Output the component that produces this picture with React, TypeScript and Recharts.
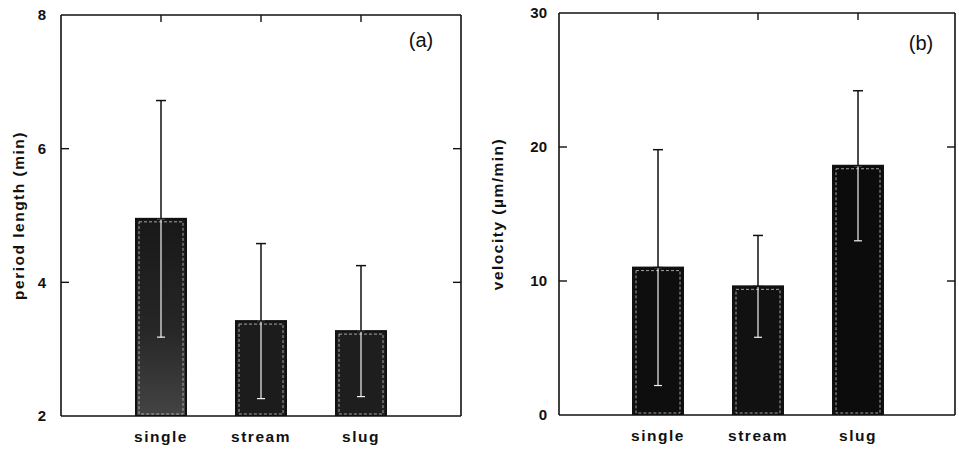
import { BarChart, Bar, XAxis, YAxis, ErrorBar, Cell } from 'recharts'

const CATEGORIES = ['single', 'stream', 'slug']

// (a) period length (min)
const PERIOD_MEAN = [4.95, 3.42, 3.27]
const PERIOD_SD = [1.77, 1.16, 0.98]
const PERIOD_TICKS = [2, 4, 6, 8]

// (b) velocity (µm/min)
const VELOCITY_MEAN = [11.0, 9.6, 18.6]
const VELOCITY_SD = [8.8, 3.8, 5.6]
const VELOCITY_TICKS = [0, 10, 20, 30]

const INK = '#111'
const FONT = '"Liberation Sans", Arial, Helvetica, sans-serif'

const FILLS_A = ['url(#speckA)', '#1c1c1c', '#1e1e1e']
const FILLS_B = ['#0e0e0e', '#111', '#0c0c0c']

const periodData = CATEGORIES.map((name, i) => ({
  name,
  value: PERIOD_MEAN[i],
  up: [0, PERIOD_SD[i]],
  down: [PERIOD_SD[i], 0],
}))

const velocityData = CATEGORIES.map((name, i) => ({
  name,
  value: VELOCITY_MEAN[i],
  up: [0, VELOCITY_SD[i]],
  down: [VELOCITY_SD[i], 0],
}))

const tickStyle = { fontSize: 15, fontWeight: 700, fill: INK, fontFamily: FONT }
const catTickStyle = { fontSize: 15.5, fontWeight: 700, fill: INK, fontFamily: FONT, letterSpacing: 1.5 }
const frameLine = { stroke: INK, strokeWidth: 1.6 }
const innerTick = { stroke: INK, strokeWidth: 1.4 }

// tick marks only, no label
const NoLabel = () => <g />

function ScannedBar(props: any) {
  const { x, y, width, height, fill, background } = props
  if (!height || height <= 0) return null
  const cx = x + width / 2
  return (
    <g>
      <defs>
        <linearGradient id="speckA" x1="0" y1="0" x2="0" y2="1">
          <stop offset="0%" stopColor="#181818" />
          <stop offset="55%" stopColor="#262626" />
          <stop offset="100%" stopColor="#444" />
        </linearGradient>
      </defs>
      {/* inward tick on the top frame above this category */}
      {background && (
        <line x1={cx} x2={cx} y1={background.y} y2={background.y + 7} stroke={INK} strokeWidth={1.4} />
      )}
      <rect x={x} y={y} width={width} height={height} fill={fill} stroke={INK} strokeWidth={2} />
      <rect
        x={x + 3}
        y={y + 3}
        width={Math.max(width - 6, 0)}
        height={Math.max(height - 5, 0)}
        fill="none"
        stroke="#c8c8c8"
        strokeWidth={0.8}
        strokeDasharray="3 2"
      />
    </g>
  )
}

type PanelProps = {
  data: typeof periodData
  fills: string[]
  domain: [number, number]
  ticks: number[]
  yLabel: string
  width: number
  margin: { top: number; right: number; bottom: number; left: number }
  yAxisWidth: number
  xAxisHeight: number
  padding: { left: number; right: number }
  tickMargin: number
  labelDx: number
}

function Panel(p: PanelProps) {
  return (
    <BarChart width={p.width} height={449} data={p.data} margin={p.margin} barSize={50}>
      <XAxis
        dataKey="name"
        height={p.xAxisHeight}
        padding={p.padding}
        tickLine={false}
        tickMargin={9}
        axisLine={frameLine}
        tick={catTickStyle}
        interval={0}
      />
      <XAxis
        xAxisId="top"
        dataKey="name"
        orientation="top"
        height={1}
        padding={p.padding}
        tick={false}
        tickLine={false}
        axisLine={frameLine}
      />
      <YAxis
        type="number"
        domain={p.domain}
        ticks={p.ticks}
        width={p.yAxisWidth}
        tickLine={false}
        tickSize={0}
        tickMargin={p.tickMargin}
        axisLine={frameLine}
        tick={tickStyle}
        allowDataOverflow
        label={{
          value: p.yLabel,
          angle: -90,
          position: 'center',
          dx: p.labelDx,
          style: { fontSize: 15.5, fontWeight: 700, fill: INK, fontFamily: FONT, letterSpacing: 1.5 },
        }}
      />
      <YAxis
        yAxisId="leftIn"
        orientation="left"
        mirror
        type="number"
        domain={p.domain}
        ticks={p.ticks.slice(1, -1)}
        width={1}
        tick={NoLabel}
        tickSize={8}
        tickLine={innerTick}
        axisLine={false}
        allowDataOverflow
        interval={0}
      />
      <YAxis
        yAxisId="right"
        orientation="right"
        mirror
        type="number"
        domain={p.domain}
        ticks={p.ticks.slice(1, -1)}
        width={1}
        tick={NoLabel}
        tickSize={8}
        tickLine={innerTick}
        axisLine={frameLine}
        allowDataOverflow
        interval={0}
      />
      <Bar dataKey="value" shape={ScannedBar} isAnimationActive={false}>
        {p.data.map((d, i) => (
          <Cell key={d.name} fill={p.fills[i]} />
        ))}
        <ErrorBar dataKey="down" direction="y" width={4} stroke="#f2f2f2" strokeWidth={1.2} />
        <ErrorBar dataKey="up" direction="y" width={5} stroke={INK} strokeWidth={1.5} />
      </Bar>
    </BarChart>
  )
}

export default function App() {
  return (
    <div
      style={{
        position: 'absolute',
        left: 0,
        top: 0,
        width: 959,
        height: 449,
        background: '#fff',
        fontFamily: FONT,
        overflow: 'hidden',
      }}
    >
      <div style={{ position: 'absolute', left: 0, top: 0 }}>
        <Panel
          data={periodData}
          fills={FILLS_A}
          domain={[2, 8]}
          ticks={PERIOD_TICKS}
          yLabel="period length (min)"
          width={480}
          margin={{ top: 14, right: 19, bottom: 0, left: 0 }}
          yAxisWidth={61}
          xAxisHeight={33}
          padding={{ left: 50, right: 50 }}
          tickMargin={15}
          labelDx={-12.5}
        />
      </div>
      <div style={{ position: 'absolute', left: 480, top: 0 }}>
        <Panel
          data={velocityData}
          fills={FILLS_B}
          domain={[0, 30]}
          ticks={VELOCITY_TICKS}
          yLabel="velocity (µm/min)"
          width={479}
          margin={{ top: 12, right: 4, bottom: 0, left: 0 }}
          yAxisWidth={79}
          xAxisHeight={34}
          padding={{ left: 49, right: 47 }}
          tickMargin={12}
          labelDx={-22.5}
        />
      </div>
      <span
        style={{ position: 'absolute', left: 421, top: 40, transform: 'translate(-50%, -50%)', fontSize: 20, color: INK }}
      >
        (a)
      </span>
      <span
        style={{ position: 'absolute', left: 921, top: 43, transform: 'translate(-50%, -50%)', fontSize: 20, color: INK }}
      >
        (b)
      </span>
    </div>
  )
}
